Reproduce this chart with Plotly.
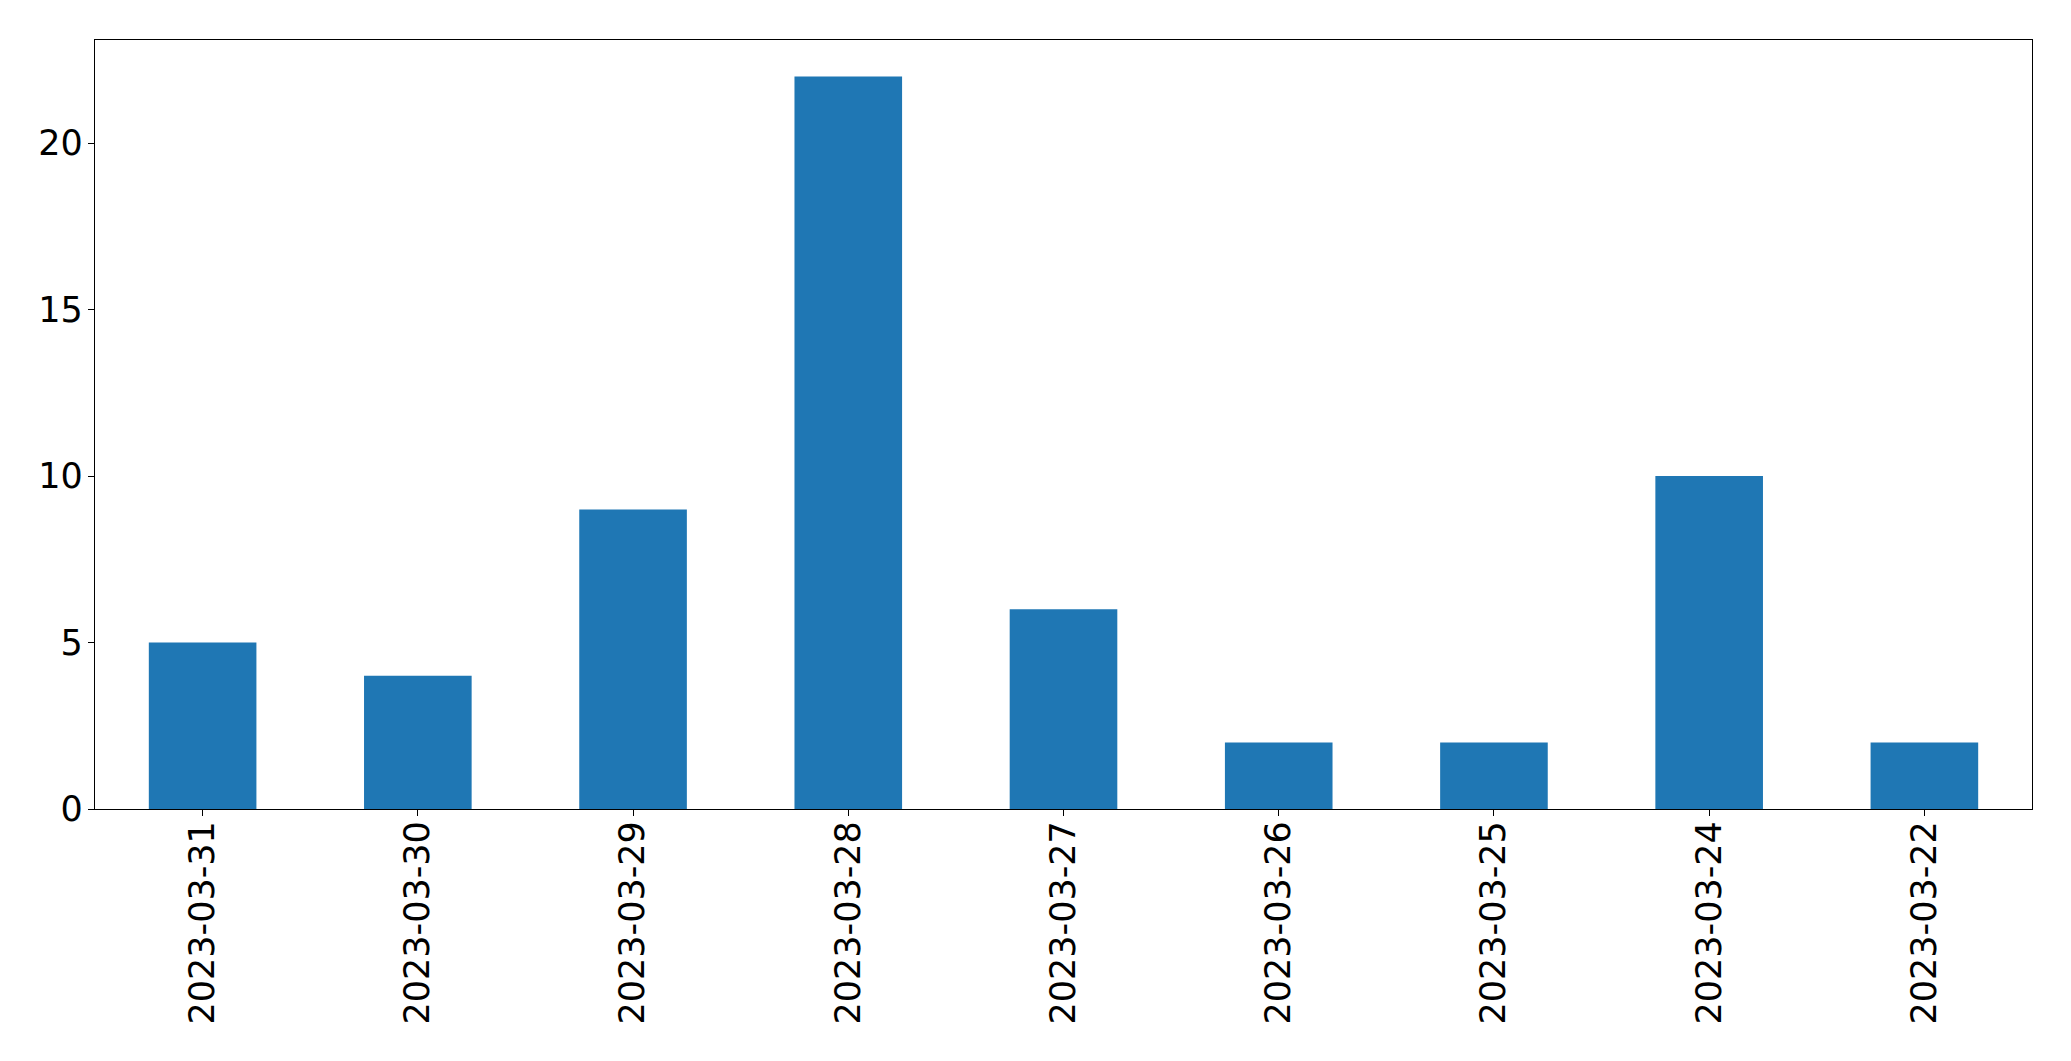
import plotly.graph_objects as go

dates = ["2023-03-31", "2023-03-30", "2023-03-29", "2023-03-28", "2023-03-27",
         "2023-03-26", "2023-03-25", "2023-03-24", "2023-03-22"]
counts = [5, 4, 9, 22, 6, 2, 2, 10, 2]
y_ticks = [0, 5, 10, 15, 20]

fig = go.Figure(go.Bar(x=dates, y=counts, width=0.5, marker=dict(color="#1f77b4", line=dict(width=0))))

axis_common = dict(showline=True, linecolor="black", linewidth=1.3, mirror=True,
                   showgrid=False, zeroline=False, ticks="outside", ticklen=6,
                   tickwidth=1.3, tickcolor="black",
                   tickfont=dict(family="DejaVu Sans", size=35, color="black"))

fig.update_layout(
    width=2063, height=1053,
    margin=dict(l=87, r=39, t=32, b=252, autoexpand=False),
    plot_bgcolor="white", paper_bgcolor="white",
    showlegend=False,
    xaxis=dict(type="category", range=[-0.5, len(dates) - 0.5], tickangle=-90,
               ticklabelstandoff=-9, **axis_common),
    yaxis=dict(range=[0, 23.1], tickvals=y_ticks, ticklabelstandoff=-2, **axis_common),
)

fig.write_html("out.html")
